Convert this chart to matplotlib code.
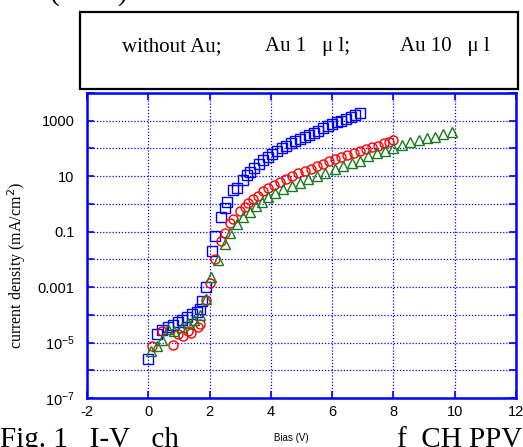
import numpy as np
import matplotlib
matplotlib.use("Agg")
import matplotlib.pyplot as plt
from matplotlib.ticker import FixedLocator, FixedFormatter

# ---- data ----
bias_noau = [0.00, 0.27, 0.44, 0.65, 0.82, 0.98, 1.09, 1.25, 1.42, 1.58, 1.69, 1.74, 1.87,
             2.07, 2.18, 2.37, 2.50, 2.56, 2.77, 2.89, 3.08, 3.21, 3.32, 3.45, 3.60, 3.75,
             3.90, 4.05, 4.20, 4.35, 4.50, 4.65, 4.80, 4.95, 5.10, 5.25, 5.40, 5.55, 5.70,
             5.85, 6.00, 6.15, 6.30, 6.45, 6.60, 6.75, 6.90]
logj_noau = [-5.58, -4.69, -4.55, -4.45, -4.35, -4.27, -4.19, -4.09, -3.97, -3.91, -3.79, -3.49, -3.00,
             -1.70, -1.17, -0.47, -0.16, 0.08, 0.50, 0.58, 0.86, 1.04, 1.16, 1.30, 1.45, 1.58,
             1.70, 1.80, 1.90, 2.00, 2.10, 2.18, 2.26, 2.34, 2.42, 2.50, 2.57, 2.64, 2.72,
             2.80, 2.87, 2.94, 3.00, 3.07, 3.13, 3.19, 3.27]

bias_au1 = [0.11, 0.44, 0.80, 0.98, 1.12, 1.31, 1.38, 1.63, 1.69, 1.87, 2.00, 2.18, 2.37,
            2.50, 2.67, 2.77, 2.99, 3.16, 3.26, 3.43, 3.59, 3.75, 3.92, 4.10, 4.30, 4.50,
            4.70, 4.90, 5.10, 5.30, 5.50, 5.70, 5.90, 6.10, 6.30, 6.50, 6.70, 6.90, 7.10,
            7.30, 7.50, 7.70, 7.85, 8.00]
logj_au1 = [-5.12, -4.60, -5.08, -4.69, -4.75, -4.60, -4.67, -4.43, -4.33, -3.46, -2.87, -1.98, -1.34,
            -1.05, -0.68, -0.53, -0.25, -0.10, 0.02, 0.16, 0.28, 0.45, 0.57, 0.70, 0.80, 0.90,
            1.00, 1.10, 1.18, 1.26, 1.35, 1.44, 1.53, 1.62, 1.70, 1.77, 1.85, 1.92, 1.98,
            2.04, 2.10, 2.18, 2.24, 2.31]

bias_au10 = [0.08, 0.27, 0.46, 0.65, 0.84, 1.09, 1.31, 1.50, 1.69, 1.87, 2.04, 2.28, 2.50,
             2.67, 2.89, 3.10, 3.32, 3.52, 3.70, 3.92, 4.14, 4.41, 4.68, 4.95, 5.22, 5.50,
             5.77, 6.09, 6.37, 6.64, 6.91, 7.18, 7.45, 7.73, 8.00, 8.27, 8.54, 8.82, 9.08,
             9.36, 9.63, 9.90]
logj_au10 = [-5.30, -5.12, -4.91, -4.51, -4.57, -4.45, -4.31, -4.19, -4.00, -3.42, -2.62, -2.01, -1.46,
             -1.05, -0.71, -0.47, -0.29, -0.08, 0.08, 0.26, 0.38, 0.53, 0.64, 0.76, 0.89, 1.01,
             1.13, 1.25, 1.37, 1.47, 1.56, 1.71, 1.83, 1.92, 2.01, 2.13, 2.25, 2.31, 2.37,
             2.43, 2.53, 2.61]

x_ticks = [-2, 0, 2, 4, 6, 8, 10, 12]
y_ticks = [1e-7, 1e-6, 1e-5, 1e-4, 1e-3, 1e-2, 1e-1, 1, 10, 100, 1000, 1e4]
y_ticklabels = [r"$\mathregular{10^{-7}}$", "", r"$\mathregular{10^{-5}}$", "", "0.001", "",
                "0.1", "", "10", "", "1000", ""]
legend_labels = ["without Au;", "Au 1   \u03bc l;", "Au 10   \u03bc l"]

W, H = 523, 447
fig = plt.figure(figsize=(W / 100, H / 100), dpi=100)
fig.patch.set_facecolor("white")

ax = fig.add_axes([87 / W, 1 - 398 / H, (516 - 87) / W, (398 - 93) / H])
ax.set_yscale("log")
ax.set_xlim(-2, 12)
ax.set_ylim(1e-7, 1e4)

blue = "#0000ff"
ax.plot(bias_noau, 10 ** np.array(logj_noau), linestyle="none", marker="s",
        markersize=6.5, markerfacecolor="none", markeredgecolor=blue, markeredgewidth=1.0)
ax.plot(bias_au1, 10 ** np.array(logj_au1), linestyle="none", marker="o",
        markersize=6.5, markerfacecolor="none", markeredgecolor="#ff0000", markeredgewidth=1.0)
ax.plot(bias_au10, 10 ** np.array(logj_au10), linestyle="none", marker="^",
        markersize=6.5, markerfacecolor="none", markeredgecolor="#1a7a1a", markeredgewidth=1.0)

ax.xaxis.set_major_locator(FixedLocator(x_ticks))
ax.yaxis.set_major_locator(FixedLocator(y_ticks))
ax.yaxis.set_major_formatter(FixedFormatter(y_ticklabels))
ax.yaxis.set_minor_locator(FixedLocator([]))
ax.set_xticklabels([str(v) for v in x_ticks])

for s in ax.spines.values():
    s.set_color(blue)
    s.set_linewidth(1.8)
ax.tick_params(which="both", direction="in", color=blue, length=5, width=1.2,
               top=True, right=True, labelcolor="black", labelsize=10.5)
ax.tick_params(axis="x", pad=5)
ax.tick_params(axis="y", pad=9)
for lab in ax.get_xticklabels() + ax.get_yticklabels():
    lab.set_fontfamily("Liberation Sans")
ax.grid(True, which="major", color=blue, linestyle=(0, (1, 1.5)), linewidth=0.9)
ax.set_axisbelow(True)

fig.text(17 / W, 1 - 265 / H, "current density (mA/cm$^2$)", fontfamily="Liberation Serif",
         fontsize=11.5, rotation=90, ha="center", va="center")

fig.text(291 / W, 1 - 438 / H, "Bias (V)", fontfamily="Liberation Sans", fontsize=7,
         ha="center", va="center")

# legend box
fig.patches.append(plt.Rectangle((80 / W, 1 - 89 / H), (518 - 80) / W, (89 - 12) / H,
                                 transform=fig.transFigure, facecolor="white",
                                 edgecolor="black", linewidth=1.6))
for xp, lab in zip([122, 265, 400], legend_labels):
    fig.text(xp / W, 1 - 47 / H, lab, fontfamily="Liberation Serif", fontsize=15,
             ha="left", va="center")

# surrounding document text fragments
fig.text(50 / W, 1.0, "(2004) 000.", fontfamily="Liberation Serif", fontsize=21,
         ha="left", va="baseline")
fig.text(0, 1 - 447 / H, "Fig. 1   I-V   ch", fontfamily="Liberation Serif", fontsize=21,
         ha="left", va="baseline")
fig.text(397 / W, 1 - 447 / H, "f  CH PPV", fontfamily="Liberation Serif", fontsize=21,
         ha="left", va="baseline")

fig.savefig("out.png", dpi=100)
